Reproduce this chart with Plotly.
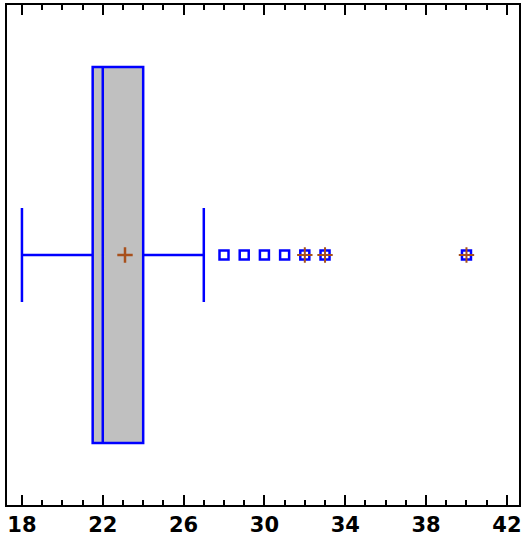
import plotly.graph_objects as go

# Box statistics
q1 = 21.5
median = 22.0
q3 = 24.0
lower_fence = 18.0
upper_fence = 27.0
mean_value = 23.1

# Outside points
outliers = [28, 29, 30, 31, 32, 33, 40]
far_outliers = [32, 33, 40]

tick_vals = [18, 22, 26, 30, 34, 38, 42]
tick_text = ["18", "22", "26", "30", "34", "38", "42"]

BLUE = "#0000ff"
BROWN = "#a8501c"

fig = go.Figure()
fig.add_trace(go.Box(
    orientation="h",
    y=[0],
    q1=[q1], median=[median], q3=[q3],
    lowerfence=[lower_fence], upperfence=[upper_fence],
    fillcolor="#c0c0c0",
    line=dict(color=BLUE, width=2.5),
    whiskerwidth=0.25,
    width=0.752,
    boxpoints=False,
    hoverinfo="skip",
    showlegend=False,
))
fig.add_trace(go.Scatter(
    x=outliers, y=[0] * len(outliers), mode="markers",
    marker=dict(symbol="square-open", size=9, color=BLUE, line=dict(width=2.5, color=BLUE)),
    showlegend=False,
))
fig.add_trace(go.Scatter(
    x=far_outliers, y=[0] * len(far_outliers), mode="markers",
    marker=dict(symbol="cross-thin", size=11, color=BROWN, line=dict(width=2, color=BROWN)),
    showlegend=False,
))
fig.add_trace(go.Scatter(
    x=[mean_value], y=[0], mode="markers",
    marker=dict(symbol="cross-thin", size=11, color=BROWN, line=dict(width=2.5, color=BROWN)),
    showlegend=False,
))

fig.update_layout(
    width=523, height=539,
    margin=dict(l=7, r=4, t=5, b=34, autoexpand=False),
    plot_bgcolor="white", paper_bgcolor="white",
    font=dict(family="DejaVu Sans, Arial, sans-serif", color="black"),
)
fig.update_xaxes(
    range=[17.26, 42.6],
    tickvals=tick_vals, ticktext=tick_text,
    ticks="inside", ticklen=10, tickwidth=2, tickcolor="black",
    minor=dict(dtick=1, tick0=18, ticks="inside", ticklen=5, tickwidth=2, tickcolor="black"),
    showline=True, linecolor="black", linewidth=2, mirror="ticks",
    showgrid=False, zeroline=False, automargin=False,
    tickfont=dict(family="DejaVu Sans", size=21, weight="bold", color="black"),
    ticklabelstandoff=0,
)
fig.update_yaxes(
    range=[-0.5, 0.5],
    showticklabels=False, ticks="",
    showline=True, linecolor="black", linewidth=2, mirror=True,
    showgrid=False, zeroline=False, automargin=False,
)

fig.write_html(
    "out.html",
    config={"displayModeBar": False},
    post_script="document.body.style.margin='0';document.body.style.overflow='hidden';",
)
